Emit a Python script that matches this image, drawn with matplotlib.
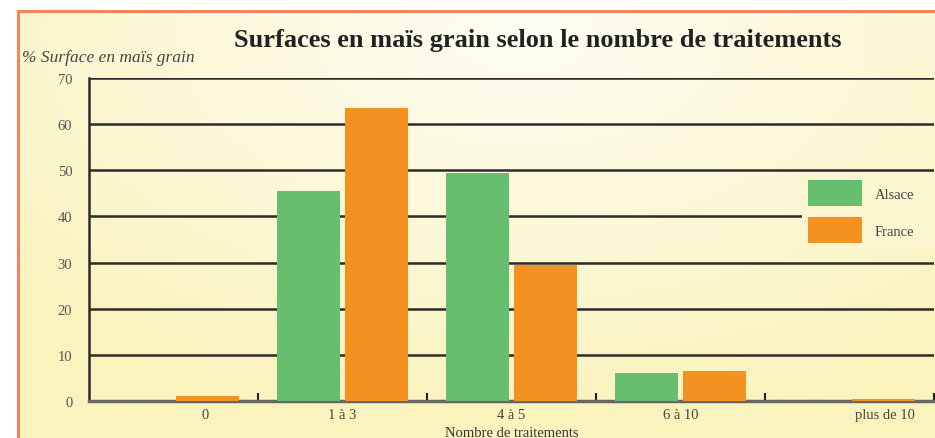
import numpy as np
import matplotlib
matplotlib.use("Agg")
import matplotlib.pyplot as plt
from matplotlib.lines import Line2D
from matplotlib.patches import Patch

categories = ["0", "1 à 3", "4 à 5", "6 à 10", "plus de 10"]
alsace = [0, 45.5, 49.5, 6, 0]
france = [1, 63.5, 29.5, 6.5, 0.5]
yticks = [0, 10, 20, 30, 40, 50, 60, 70]

W, H = 935, 439
fig = plt.figure(figsize=(W / 100, H / 100), dpi=100)
fig.patch.set_facecolor("white")

# background gradient inside the orange frame
bx0, by0 = 18, 12
bg = fig.add_axes([bx0 / W, 0, 1 - bx0 / W, (H - by0) / H])
bg.set_axis_off()
ny, nx = 200, 400
yy, xx = np.mgrid[0:1:ny * 1j, 0:1:nx * 1j]
d = np.sqrt(((xx - 0.55) / 0.75) ** 2 + ((yy - 0.05) / 0.9) ** 2)
t = np.clip(d, 0, 1)[..., None]
c_center = np.array([254, 253, 243]) / 255
c_edge = np.array([250, 243, 190]) / 255
img = c_center * (1 - t) + c_edge * t
bg.imshow(img, aspect="auto", extent=[0, 1, 0, 1], origin="upper")
bg.set_xlim(0, 1)
bg.set_ylim(0, 1)

frame_col = "#F3845E"
fig.add_artist(Line2D([bx0 / W, bx0 / W], [0, 1 - by0 / H], color=frame_col, lw=2.2))
fig.add_artist(Line2D([bx0 / W, 1], [1 - by0 / H, 1 - by0 / H], color=frame_col, lw=2.2))

ax_l, ax_r, ax_b, ax_t = 89, 934, 402, 79
ax = fig.add_axes([ax_l / W, (H - ax_b) / H, (ax_r - ax_l) / W, (ax_b - ax_t) / H])
ax.set_facecolor("none")

x = np.arange(len(categories))
w = 0.37
green = "#66BF6F"
orange = "#F39220"
ax.bar(x - 0.2, alsace, w, color=green, zorder=3, label="Alsace")
ax.bar(x + 0.2, france, w, color=orange, zorder=3, label="France")

ax.set_xlim(-0.5, len(categories) - 0.5)
ax.set_ylim(0, 70)
ax.set_yticks(yticks)
ax.set_yticklabels([str(v) for v in yticks], family="Liberation Serif", fontsize=10.5, color="#555555")
ax.tick_params(axis="y", length=0, pad=12)
ax.grid(axis="y", color="#2b2b2b", lw=1.8, zorder=1)

ax.set_xticks(np.arange(len(categories)) + 0.5)
ax.set_xticklabels([])
ax.tick_params(axis="x", which="major", direction="in", length=6, width=1.5, color="#222222")
label_pos = [0.19, 1, 2, 3, 4.21]
ax.set_xticks(label_pos, minor=True)
ax.set_xticklabels(categories, minor=True, family="Liberation Serif", fontsize=10.5, color="#444444")
ax.tick_params(axis="x", which="minor", length=0, pad=5)

for s in ["top", "right"]:
    ax.spines[s].set_visible(False)
ax.spines["left"].set_color("#2b2b2b")
ax.spines["left"].set_linewidth(1.8)
ax.spines["bottom"].set_color("#666666")
ax.spines["bottom"].set_linewidth(2.5)

ax.set_xlabel("Nombre de traitements", family="Liberation Serif", fontsize=10.5, color="#333333", labelpad=4)

fs = 10.5
fpx = fs * 100 / 72
bp = 0.4
x0 = (808 - bp * fpx - ax_l) / (ax_r - ax_l)
leg = ax.legend(
    handles=[Patch(facecolor=green, label="Alsace"), Patch(facecolor=orange, label="France")],
    loc="upper left", mode="expand",
    bbox_to_anchor=(x0, (ax_b - (181 - bp * fpx)) / (ax_b - ax_t), 1.02 - x0, 0),
    borderaxespad=0,
    frameon=True, facecolor="#FBF6D0", edgecolor="none", framealpha=1, fancybox=False,
    handlelength=54 / fpx, handleheight=2.38, handletextpad=13 / fpx, labelspacing=11 / fpx,
    prop={"family": "Liberation Serif", "size": fs}, borderpad=bp,
)
for txt in leg.get_texts():
    txt.set_color("#444444")
leg.set_zorder(5)

fig.text(538 / W, 1 - 41 / H, "Surfaces en maïs grain selon le nombre de traitements",
         ha="center", va="center", family="Liberation Serif", weight="bold", fontsize=19, color="#222222")
fig.text(22 / W, 1 - 58 / H, "% Surface en maïs grain", ha="left", va="center",
         family="Liberation Serif", style="italic", fontsize=12.5, color="#444444")

fig.savefig("out.png", dpi=100)
